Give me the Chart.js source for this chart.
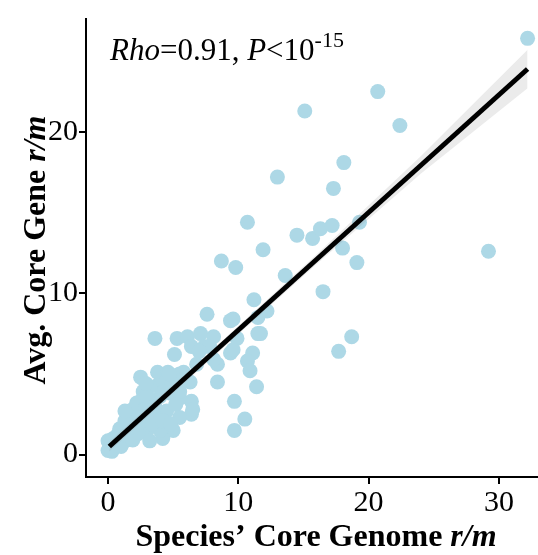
<!DOCTYPE html>
<html>
<head>
<meta charset="utf-8">
<script src="https://cdn.jsdelivr.net/npm/chart.js@4/dist/chart.umd.min.js"></script>
<style>
  html, body { margin: 0; padding: 0; background: #fff; }
  #wrap { width: 538px; height: 555px; }
</style>
</head>
<body>
<div id="wrap"><canvas id="c"></canvas></div>
<script>
// r/m per species: core genome (x) vs average core gene (y)
const speciesRm = [
  32.2, 20.7, 15.1, 22.4, 18.1, 13.0, 17.3, 10.7, 14.5, 15.7,
  16.3, 17.2, 19.3, 11.9, 8.7, 9.8, 18.0, 19.1, 29.2, 13.6,
  16.5, 11.2, 7.6, 9.6, 12.2, 11.5, 11.5, 18.7, 17.7, 3.6,
  5.3, 6.1, 7.1, 8.1, 9.9, 5.1, 9.4, 11.1, 10.7, 8.4,
  10.9, 8.4, 11.4, 9.7, 10.5, 9.7, 6.4, 6.4, 5.8, 2.5,
  3.8, 4.6, 5.5, 6.5, 5.0, 4.2, 3.0, 1.5, 0.15, 0.0,
  0.9, 1.9, 1.7, 2.7, 3.8, 4.8, 5.5, 4.5, 3.5, 2.7,
  0.4, 4.0, 1.3, 2.1, 3.2, 4.0, 4.4, 5.1, 6.3, 3.2,
  2.5, 1.3, 0.8, 0.0, 0.5, 1.3, 2.3, 3.2, 6.4, 7.4,
  7.8, 8.1, 9.4, 9.6, 11.7, 5.5,
  0.3, 0.6, 1.0, 1.1, 1.6, 1.9, 2.0, 2.4, 2.2, 2.9,
  3.0, 3.4, 3.6, 4.2, 4.3, 4.9, 5.2, 5.6, 4.7, 2.9,
  5.5, 4.8, 7.0, 6.8
];
const coreGeneRm = [
  25.8, 22.5, 21.3, 20.4, 18.1, 17.2, 16.5, 14.4, 13.6, 13.4,
  14.0, 14.2, 14.4, 12.7, 12.0, 11.6, 12.8, 11.9, 12.6, 11.1,
  10.1, 9.6, 8.7, 8.4, 8.9, 8.5, 7.5, 7.3, 6.4, 7.2,
  7.2, 7.3, 7.5, 7.3, 7.2, 6.2, 6.3, 6.3, 5.8, 5.6,
  5.2, 4.5, 4.2, 3.3, 2.2, 1.5, 3.3, 2.5, 5.1, 4.8,
  5.1, 5.1, 5.0, 2.8, 1.5, 1.0, 1.5, 1.0, 0.4, 0.85,
  1.6, 2.8, 2.2, 3.9, 4.3, 3.8, 3.5, 2.7, 2.5, 2.1,
  1.0, 1.5, 2.1, 1.8, 3.3, 3.6, 4.5, 4.2, 4.5, 4.2,
  3.3, 2.7, 1.3, 0.25, 0.55, 0.85, 1.3, 0.85, 6.7, 6.7,
  6.7, 5.9, 8.3, 6.5, 7.5, 3.9,
  0.2, 0.9, 0.5, 1.2, 1.4, 0.9, 1.7, 2.4, 3.2, 2.9,
  3.6, 1.9, 3.0, 2.1, 3.9, 4.4, 3.1, 4.6, 5.0, 4.4,
  2.3, 1.9, 6.4, 5.6
];

// linear fit and its confidence band
const fitX = [0.1, 32.2];
const fitY = [0.5, 23.9];
const bandX = [0.1, 8, 16, 24, 32.2];
const bandLow = [0.2, 6.0, 11.8, 17.4, 22.7];
const bandHigh = [0.8, 6.5, 12.4, 18.5, 25.1];

const xTicks = [0, 10, 20, 30];
const yTicks = [0, 10, 20];

const SERIF = '"Liberation Serif", "Times New Roman", serif';
const POINT_COLOR = '#add8e6';
const BAND_COLOR = 'rgba(153,153,153,0.2)';

const pts = (xs, ys) => xs.map((x, i) => ({ x, y: ys[i] }));

// draw a list of {t, f} runs on one baseline
function drawRuns(ctx, runs, x, y, align) {
  let total = 0;
  for (const r of runs) { ctx.font = r.f; total += ctx.measureText(r.t).width; }
  let cx = align === 'center' ? x - total / 2 : x;
  for (const r of runs) {
    ctx.font = r.f;
    ctx.fillText(r.t, cx, y + (r.dy || 0));
    cx += ctx.measureText(r.t).width;
  }
}

const textPlugin = {
  id: 'texts',
  afterDraw(chart) {
    const ctx = chart.ctx;
    ctx.save();
    ctx.fillStyle = '#000';
    ctx.textAlign = 'left';
    ctx.textBaseline = 'alphabetic';

    drawRuns(ctx, [
      { t: 'Species\u2019 Core Genome ', f: 'bold 32px ' + SERIF },
      { t: 'r/m', f: 'italic bold 32px ' + SERIF },
    ], 316, 546, 'center');

    ctx.save();
    ctx.translate(45, 250);
    ctx.rotate(-Math.PI / 2);
    drawRuns(ctx, [
      { t: 'Avg. Core Gene ', f: 'bold 32px ' + SERIF },
      { t: 'r/m', f: 'italic bold 32px ' + SERIF },
    ], 0, 0, 'center');
    ctx.restore();

    drawRuns(ctx, [
      { t: 'Rho', f: 'italic 31px ' + SERIF },
      { t: '=0.91, ', f: '31px ' + SERIF },
      { t: 'P', f: 'italic 31px ' + SERIF },
      { t: '<10', f: '31px ' + SERIF },
      { t: '-15', f: '22px ' + SERIF, dy: -13 },
    ], 110, 60, 'left');
    ctx.restore();
  }
};

const axisStyle = {
  grid: { drawOnChartArea: false, drawTicks: true, tickLength: 7, color: '#000', lineWidth: 2 },
  border: { display: true, color: '#000', width: 2 },
  ticks: { color: '#000', font: { family: SERIF, size: 30 }, padding: 1 },
};

new Chart(document.getElementById('c'), {
  type: 'scatter',
  data: {
    datasets: [
      {
        type: 'line',
        data: pts(fitX, fitY),
        borderColor: '#000',
        borderWidth: 5,
        pointRadius: 0,
        fill: false,
      },
      {
        type: 'line',
        data: pts(bandX, bandHigh),
        borderWidth: 0,
        borderColor: 'rgba(0,0,0,0)',
        backgroundColor: BAND_COLOR,
        pointRadius: 0,
        fill: '+1',
      },
      {
        type: 'line',
        data: pts(bandX, bandLow),
        borderWidth: 0,
        borderColor: 'rgba(0,0,0,0)',
        pointRadius: 0,
        fill: false,
      },
      {
        data: pts(speciesRm, coreGeneRm),
        pointRadius: 7.5,
        pointBackgroundColor: POINT_COLOR,
        pointBorderWidth: 0,
        borderWidth: 0,
      },
    ],
  },
  options: {
    responsive: true,
    maintainAspectRatio: false,
    animation: false,
    layout: { autoPadding: false, padding: { top: 8, right: 0, left: 0, bottom: 0 } },
    plugins: { legend: { display: false }, tooltip: { enabled: false } },
    scales: {
      x: {
        type: 'linear',
        min: -1.69,
        max: 33.0,
        ...axisStyle,
        afterBuildTicks: (s) => { s.ticks = xTicks.map(v => ({ value: v })); },
        afterFit: (s) => { s.height = 78; },
      },
      y: {
        type: 'linear',
        min: -1.39,
        max: 27.0,
        ...axisStyle,
        afterBuildTicks: (s) => { s.ticks = yTicks.map(v => ({ value: v })); },
        afterFit: (s) => { s.width = 86; },
      },
    },
  },
  plugins: [textPlugin],
});
</script>
</body>
</html>
